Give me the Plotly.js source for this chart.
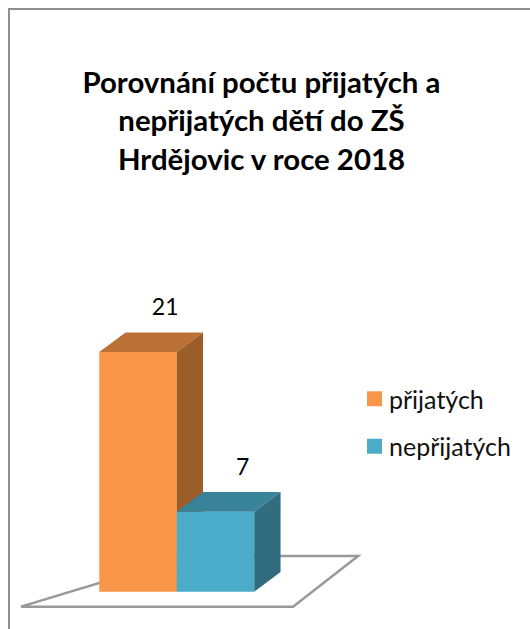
<!DOCTYPE html>
<html>
<head>
<meta charset="utf-8">
<script src="https://cdn.plot.ly/plotly-3.0.1.min.js"></script>
<style>html,body{margin:0;padding:0;background:#fff;overflow:hidden}</style>
</head>
<body>
<div id="chart" style="width:530px;height:629px"></div>
<script>
const titleText = 'Porovnání počtu přijatých a<br>nepřijatých dětí do ZŠ<br>Hrdějovic v roce 2018';
const seriesNames = ['přijatých', 'nepřijatých'];
const seriesValues = [21, 7];
const frontColors = ['#F9964A', '#4AACC8'];
const topColors = ['#BB7136', '#38829A'];
const sideColors = ['#9B5E2B', '#316D7E'];

const W = 530, H = 629;
const barWidth = 1;
const depthX = 0.339, depthY = 1.727;
const labelDX = 0.35, labelDY = 3.72;
const xRange = [-1.781, 5.058];
const yRange = [-3.27, 51.86];
const font = 'Lato, Carlito, Calibri, sans-serif';

const floorX = [-1.51, 2.0, 2.84, 0.65];
const floorY = [-1.31, -1.31, 3.13, 3.13];

const traces = [];
seriesValues.forEach((v, i) => {
  const ax = i === 0 ? {xaxis: 'x', yaxis: 'y'} : {xaxis: 'x2', yaxis: 'y2'};
  const l = i - barWidth / 2, r = i + barWidth / 2;
  traces.push({type: 'bar', x: [i], y: [v], width: barWidth, name: seriesNames[i], showlegend: false,
    marker: {color: frontColors[i], line: {width: 0}}, hoverinfo: 'skip', ...ax});
  traces.push({type: 'scatter', mode: 'lines', fill: 'toself', showlegend: false, hoverinfo: 'skip',
    x: [l, r, r + depthX, l + depthX, l], y: [v, v, v + depthY, v + depthY, v],
    line: {width: 0, color: topColors[i]}, fillcolor: topColors[i], ...ax});
  traces.push({type: 'scatter', mode: 'lines', fill: 'toself', showlegend: false, hoverinfo: 'skip',
    x: [r, r + depthX, r + depthX, r, r], y: [0, depthY, v + depthY, v, 0],
    line: {width: 0, color: sideColors[i]}, fillcolor: sideColors[i], ...ax});
  traces.push({type: 'scatter', mode: 'text', x: [i + labelDX], y: [v + labelDY], text: [String(v)],
    textposition: 'middle center', textfont: {family: font, size: 23, color: '#000'},
    showlegend: false, hoverinfo: 'skip', ...ax});
  traces.push({type: 'scatter', mode: 'markers', x: [null], y: [null], name: seriesNames[i],
    legendgroup: seriesNames[i], marker: {symbol: 'square', size: 15, color: frontColors[i]}, hoverinfo: 'skip', ...ax});
});

const hidden = {visible: false, fixedrange: true};
const layout = {
  width: W, height: H,
  margin: {l: 0, r: 0, t: 0, b: 0, pad: 0},
  paper_bgcolor: '#fff', plot_bgcolor: 'rgba(0,0,0,0)',
  barmode: 'overlay',
  title: {text: titleText, x: 0.4934, xanchor: 'center', xref: 'paper', y: 0.852, yanchor: 'top',
    font: {family: font, size: 29.4, color: '#000', weight: 700}},
  xaxis: {...hidden, range: xRange, domain: [0, 1]},
  yaxis: {...hidden, range: yRange, domain: [0, 1]},
  xaxis2: {...hidden, range: xRange, overlaying: 'x'},
  yaxis2: {...hidden, range: yRange, overlaying: 'y'},
  legend: {x: 349 / W, xanchor: 'left', y: 1 - 376 / H, yanchor: 'top', traceorder: 'grouped',
    itemsizing: 'trace', tracegroupgap: 12, itemclick: false, itemdoubleclick: false,
    bgcolor: 'rgba(0,0,0,0)', font: {family: font, size: 25, color: '#111'}},
  showlegend: true,
  shapes: [
    {type: 'path', layer: 'below', xref: 'x', yref: 'y',
      path: 'M' + floorX.map((x, i) => x + ',' + floorY[i]).join('L') + 'Z',
      fillcolor: '#fff', line: {color: '#999999', width: 2.5}},
    {type: 'rect', layer: 'below', xref: 'paper', yref: 'paper',
      x0: 9 / W, x1: 1.05, y0: -0.05, y1: 1 - 9 / H, fillcolor: 'rgba(0,0,0,0)', line: {color: '#8E8E8E', width: 2}}
  ]
};
Plotly.newPlot('chart', traces, layout, {displayModeBar: false, staticPlot: true}).then(() => {
  document.querySelectorAll('#chart .legend .legendsymbols').forEach(g => g.setAttribute('transform', 'translate(5.5,0)'));
});
</script>
</body>
</html>
